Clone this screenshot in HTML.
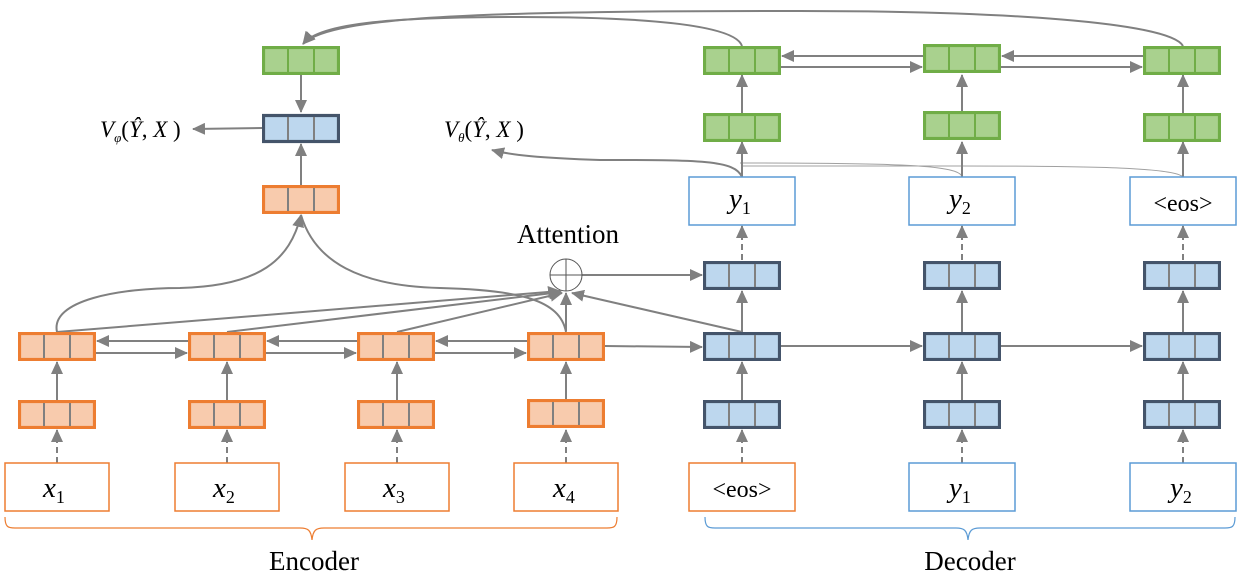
<!DOCTYPE html>
<html><head><meta charset="utf-8"><style>
html,body{margin:0;padding:0;background:#fff;}
svg{display:block;}
text{font-family:"Liberation Serif",serif;fill:#000;}
</style></head><body>
<svg width="1245" height="582" viewBox="0 0 1245 582" xmlns="http://www.w3.org/2000/svg">
<defs>
<marker id="a" markerWidth="13" markerHeight="12" refX="12" refY="6" orient="auto" markerUnits="userSpaceOnUse"><path d="M0,0 L13,6 L0,12 z" fill="#808080"/></marker>
<symbol id="or" viewBox="0 0 78 29"><rect x="1.5" y="1.5" width="75" height="26" fill="#f8cbad" stroke="#ed7d31" stroke-width="3.2"/><line x1="26" y1="3" x2="26" y2="26" stroke="#808080" stroke-width="2"/><line x1="52" y1="3" x2="52" y2="26" stroke="#808080" stroke-width="2"/></symbol>
<symbol id="gr" viewBox="0 0 78 29"><rect x="1.5" y="1.5" width="75" height="26" fill="#a9d18e" stroke="#70ad47" stroke-width="3.2"/><line x1="26" y1="3" x2="26" y2="26" stroke="#70ad47" stroke-width="2"/><line x1="52" y1="3" x2="52" y2="26" stroke="#70ad47" stroke-width="2"/></symbol>
<symbol id="bl" viewBox="0 0 78 29"><rect x="1.5" y="1.5" width="75" height="26" fill="#bdd7ee" stroke="#44546a" stroke-width="3.2"/><line x1="26" y1="3" x2="26" y2="26" stroke="#808080" stroke-width="2"/><line x1="52" y1="3" x2="52" y2="26" stroke="#808080" stroke-width="2"/></symbol>
</defs>
<g stroke="#808080" stroke-width="2" fill="none">
<path d="M742,46 C735,24 640,17 520,17 C400,17 320,22 303,44" marker-end="url(#a)"/>
<path d="M1183,46 C1170,22 1000,11 800,11 C500,11 330,15 303,44" marker-end="url(#a)"/>
<path d="M742,177 C735,160 700,160 600,160 C540,158 510,155 492,150" marker-end="url(#a)"/>
<path d="M962,177 C960,165 900,163 740,163" stroke-width="1" stroke="#a0a0a0"/>
<path d="M1183,177 C1175,168 1100,166 960,166 L742,166" stroke-width="1" stroke="#a0a0a0"/>
<line x1="301" y1="75" x2="301" y2="112" marker-end="url(#a)"/>
<line x1="301" y1="185" x2="301" y2="144" marker-end="url(#a)"/>
<line x1="262" y1="128" x2="193" y2="129" marker-end="url(#a)"/>
<path d="M57,332 C50,300 120,288 180,288 C260,286 290,260 301,215" marker-end="url(#a)"/>
<path d="M566,332 C560,300 520,290 440,288 C360,286 315,262 301,215"/>
<line x1="57" y1="332" x2="560" y2="291" marker-end="url(#a)"/>
<line x1="227" y1="332" x2="561" y2="292" marker-end="url(#a)"/>
<line x1="397" y1="332" x2="562" y2="293" marker-end="url(#a)"/>
<line x1="566" y1="331" x2="566" y2="293" marker-end="url(#a)"/>
<line x1="742" y1="332" x2="572" y2="293" marker-end="url(#a)"/>
<line x1="582" y1="275" x2="702" y2="275" marker-end="url(#a)"/>
<line x1="188" y1="341" x2="97" y2="341" marker-end="url(#a)"/>
<line x1="96" y1="353" x2="187" y2="353" marker-end="url(#a)"/>
<line x1="357" y1="341" x2="267" y2="341" marker-end="url(#a)"/>
<line x1="266" y1="353" x2="356" y2="353" marker-end="url(#a)"/>
<line x1="527" y1="341" x2="436" y2="341" marker-end="url(#a)"/>
<line x1="435" y1="353" x2="526" y2="353" marker-end="url(#a)"/>
<line x1="605" y1="346" x2="702" y2="347" marker-end="url(#a)"/>
<line x1="781" y1="346" x2="922" y2="346" marker-end="url(#a)"/>
<line x1="1001" y1="346" x2="1142" y2="346" marker-end="url(#a)"/>
<line x1="923" y1="56" x2="782" y2="56" marker-end="url(#a)"/>
<line x1="781" y1="67" x2="922" y2="67" marker-end="url(#a)"/>
<line x1="1143" y1="56" x2="1002" y2="56" marker-end="url(#a)"/>
<line x1="1001" y1="67" x2="1142" y2="67" marker-end="url(#a)"/>
<line x1="57" y1="400" x2="57" y2="362" marker-end="url(#a)"/>
<line x1="227" y1="400" x2="227" y2="362" marker-end="url(#a)"/>
<line x1="397" y1="400" x2="397" y2="362" marker-end="url(#a)"/>
<line x1="566" y1="400" x2="566" y2="362" marker-end="url(#a)"/>
<line x1="742" y1="400" x2="742" y2="362" marker-end="url(#a)"/>
<line x1="962" y1="400" x2="962" y2="362" marker-end="url(#a)"/>
<line x1="1183" y1="400" x2="1183" y2="362" marker-end="url(#a)"/>
<line x1="742" y1="332" x2="742" y2="291" marker-end="url(#a)"/>
<line x1="962" y1="332" x2="962" y2="291" marker-end="url(#a)"/>
<line x1="1183" y1="332" x2="1183" y2="291" marker-end="url(#a)"/>
<line x1="742" y1="177" x2="742" y2="142" marker-end="url(#a)"/>
<line x1="962" y1="177" x2="962" y2="142" marker-end="url(#a)"/>
<line x1="1183" y1="177" x2="1183" y2="142" marker-end="url(#a)"/>
<line x1="742" y1="113" x2="742" y2="75" marker-end="url(#a)"/>
<line x1="962" y1="113" x2="962" y2="75" marker-end="url(#a)"/>
<line x1="1183" y1="113" x2="1183" y2="75" marker-end="url(#a)"/>
</g>
<g stroke="#808080" stroke-width="2" fill="none" stroke-dasharray="6,4">
<line x1="57" y1="463" x2="57" y2="430" marker-end="url(#a)"/>
<line x1="227" y1="463" x2="227" y2="430" marker-end="url(#a)"/>
<line x1="397" y1="463" x2="397" y2="430" marker-end="url(#a)"/>
<line x1="566" y1="463" x2="566" y2="430" marker-end="url(#a)"/>
<line x1="742" y1="463" x2="742" y2="430" marker-end="url(#a)"/>
<line x1="962" y1="463" x2="962" y2="430" marker-end="url(#a)"/>
<line x1="1183" y1="463" x2="1183" y2="430" marker-end="url(#a)"/>
<line x1="742" y1="260" x2="742" y2="226" marker-end="url(#a)"/>
<line x1="962" y1="260" x2="962" y2="226" marker-end="url(#a)"/>
<line x1="1183" y1="260" x2="1183" y2="226" marker-end="url(#a)"/>
</g>
<use href="#gr" x="262" y="46" width="78" height="29"/>
<use href="#bl" x="262" y="113" width="78" height="31"/>
<use href="#or" x="262" y="185" width="78" height="29"/>
<use href="#or" x="18" y="332" width="78" height="29"/>
<use href="#or" x="188" y="332" width="78" height="29"/>
<use href="#or" x="357" y="332" width="78" height="29"/>
<use href="#or" x="527" y="332" width="78" height="29"/>
<use href="#or" x="18" y="400" width="78" height="29"/>
<use href="#or" x="188" y="400" width="78" height="29"/>
<use href="#or" x="357" y="400" width="78" height="29"/>
<use href="#or" x="527" y="399" width="78" height="29"/>
<use href="#gr" x="703" y="46" width="78" height="29"/>
<use href="#gr" x="923" y="44" width="78" height="29"/>
<use href="#gr" x="1143" y="46" width="78" height="29"/>
<use href="#gr" x="703" y="113" width="78" height="29"/>
<use href="#gr" x="923" y="111" width="78" height="29"/>
<use href="#gr" x="1143" y="113" width="78" height="29"/>
<use href="#bl" x="703" y="261" width="78" height="29"/>
<use href="#bl" x="923" y="261" width="78" height="29"/>
<use href="#bl" x="1143" y="261" width="78" height="29"/>
<use href="#bl" x="703" y="332" width="78" height="29"/>
<use href="#bl" x="923" y="332" width="78" height="29"/>
<use href="#bl" x="1143" y="332" width="78" height="29"/>
<use href="#bl" x="703" y="400" width="78" height="29"/>
<use href="#bl" x="923" y="400" width="78" height="29"/>
<use href="#bl" x="1143" y="400" width="78" height="29"/>
<g fill="#fff" stroke-width="1.5">
<rect x="5" y="463" width="104" height="48" stroke="#ed7d31"/>
<rect x="175" y="463" width="104" height="48" stroke="#ed7d31"/>
<rect x="345" y="463" width="104" height="48" stroke="#ed7d31"/>
<rect x="514" y="463" width="104" height="48" stroke="#ed7d31"/>
<rect x="689" y="463" width="106" height="48" stroke="#ed7d31"/>
<rect x="909" y="463" width="106" height="48" stroke="#5b9bd5"/>
<rect x="1130" y="463" width="106" height="48" stroke="#5b9bd5"/>
<rect x="689" y="177" width="106" height="48" stroke="#5b9bd5"/>
<rect x="909" y="177" width="106" height="48" stroke="#5b9bd5"/>
<rect x="1130" y="177" width="106" height="48" stroke="#5b9bd5"/>
</g>
<circle cx="566" cy="275" r="16" fill="#fff" stroke="#555" stroke-width="1"/>
<line x1="550" y1="275" x2="582" y2="275" stroke="#555"/>
<line x1="566" y1="259" x2="566" y2="291" stroke="#555"/>
<text x="568" y="243" font-size="27" text-anchor="middle">Attention</text>
<path d="M5,517 C5,527 8,528 15,528 L300,528 C308,528 311,530 312,540 C313,530 316,528 324,528 L607,528 C614,528 617,527 617,517" fill="none" stroke="#ed7d31" stroke-width="1.2"/>
<path d="M705,517 C705,527 708,528 715,528 L956,528 C964,528 967,530 968,540 C969,530 972,528 980,528 L1225,528 C1232,528 1235,527 1235,517" fill="none" stroke="#5b9bd5" stroke-width="1.2"/>
<text x="314" y="570" font-size="27" text-anchor="middle">Encoder</text>
<text x="970" y="570" font-size="27" text-anchor="middle">Decoder</text>
<g font-style="italic" font-size="29">
<text x="43" y="497">x<tspan font-size="18" font-style="normal" dy="6">1</tspan></text>
<text x="213" y="497">x<tspan font-size="18" font-style="normal" dy="6">2</tspan></text>
<text x="383" y="497">x<tspan font-size="18" font-style="normal" dy="6">3</tspan></text>
<text x="553" y="497">x<tspan font-size="18" font-style="normal" dy="6">4</tspan></text>
<text x="949" y="497">y<tspan font-size="18" font-style="normal" dy="6">1</tspan></text>
<text x="1170" y="497">y<tspan font-size="18" font-style="normal" dy="6">2</tspan></text>
<text x="729" y="208">y<tspan font-size="18" font-style="normal" dy="6">1</tspan></text>
<text x="949" y="208">y<tspan font-size="18" font-style="normal" dy="6">2</tspan></text>
</g>
<text x="742" y="497" font-size="24" text-anchor="middle">&lt;eos&gt;</text>
<text x="1183" y="211" font-size="24" text-anchor="middle">&lt;eos&gt;</text>
<text x="100" y="137" font-size="23"><tspan font-style="italic">V</tspan><tspan font-size="13" font-style="italic" dy="5">φ</tspan><tspan dy="-5">(</tspan><tspan font-style="italic">Ŷ</tspan>, <tspan font-style="italic">X</tspan> )</text>
<text x="444" y="137" font-size="23"><tspan font-style="italic">V</tspan><tspan font-size="13" font-style="italic" dy="5">θ</tspan><tspan dy="-5">(</tspan><tspan font-style="italic">Ŷ</tspan>, <tspan font-style="italic">X</tspan> )</text>
</svg>
</body></html>
